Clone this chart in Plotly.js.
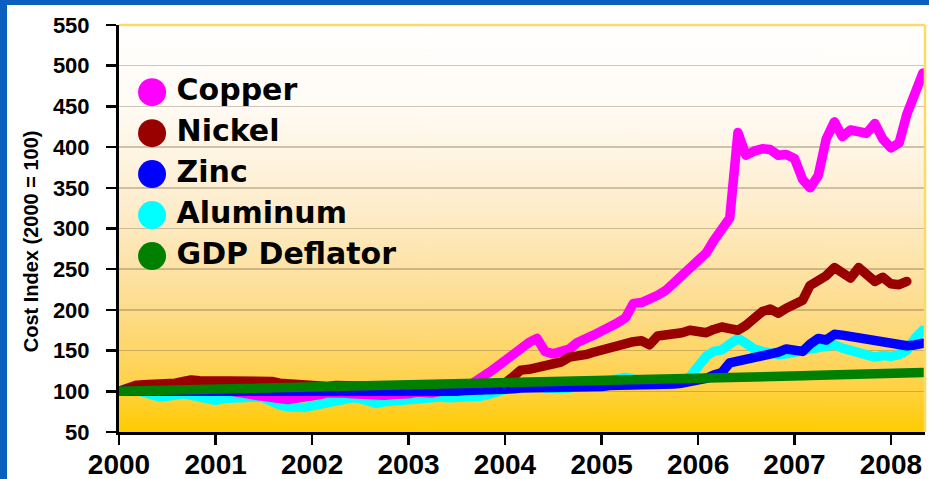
<!DOCTYPE html>
<html>
<head>
<meta charset="utf-8">
<script src="https://cdn.plot.ly/plotly-3.0.1.min.js"></script>
<style>
  html, body { margin: 0; padding: 0; width: 929px; height: 479px; overflow: hidden; background: #0a5fbf; }
  #chart { position: absolute; left: 7px; top: 5px; width: 922px; height: 474px; background: #ffffff; }
  .js-line { stroke-linecap: round !important; stroke-linejoin: round !important; }
</style>
</head>
<body>
<div id="chart"></div>
<script>
// ---- Data (monthly, Jan 2000 onward; index 2000 = 100) ----
const startYear = 2000;
const seriesNames = ["Copper", "Nickel", "Zinc", "Aluminum", "GDP Deflator"];
const yTickLabels = ["50","100","150","200","250","300","350","400","450","500","550"];
const yTitle = "Cost Index (2000 = 100)";

const copper = [
  100,101,103,103,102,103,104,105,106,104,104,106,
  103,102,100,98,97,95,93,92,91,90,91,92,
  94,96,98,99,98,97,96,95,95,95,96,96,
  97,99,98,98,100,101,103,105,110,115,123,130,
  138,147,155,160,165,149,146,150,152,160,166,169,
  174,178,184,190,208,209,212,218,224,233,242,250,
  258,270,285,297,313,418,390,395,398,397,390,391,
  386,360,350,365,410,431,413,421,419,417,429,410,
  399,405,440,470,491
];
const nickel = [
  100,104,107,108,108,109,109,110,112,114,113,113,
  113,113,113,113,113,114,114,112,110,109,108,108,
  108,107,106,107,107,106,107,108,106,106,105,105,
  105,106,106,106,107,107,107,108,108,108,109,109,
  110,118,126,127,129,134,135,136,142,143,145,148,
  151,153,156,159,161,162,157,168,169,171,172,175,
  173,172,176,179,177,175,181,190,198,201,196,202,
  206,212,230,236,242,252,244,239,252,243,235,240,
  232,231,235
];
const zinc = [
  100,100,99,99,98,98,98,98,98,98,98,98,
  98,98,98,98,98,98,98,98,98,98,98,98,
  98,98,98,98,98,98,98,98,98,99,99,99,
  99,99,99,100,100,100,100,101,101,102,102,103,
  103,103,104,104,104,104,104,104,105,105,105,106,
  106,107,107,107,107,108,108,108,108,109,110,112,
  113,116,120,123,135,137,138,141,144,146,148,152,
  151,149,158,165,163,170,169,167,166,163,162,161,
  157,155,156,157,159
];
const aluminum = [
  100,104,102,99,97,93,94,96,97,95,92,90,
  89,91,92,92,93,93,92,86,83,81,79,80,
  82,84,87,89,91,92,91,87,85,87,88,89,
  89,90,92,93,93,92,92,92,93,94,96,99,
  104,106,108,109,108,104,103,103,104,106,107,108,
  110,112,115,117,115,110,108,108,109,110,112,118,
  131,143,149,151,158,165,159,152,149,147,145,146,
  147,150,152,154,156,157,153,150,145,143,142,144,
  143,145,150,165,175
];
const gdpDeflator = [
  100.0,100.2,100.4,100.6,100.8,101.0,101.2,101.4,101.6,101.8,102.0,102.2,
  102.4,102.6,102.8,103.0,103.2,103.3,103.5,103.7,103.9,104.0,104.2,104.4,
  104.6,104.8,104.9,105.1,105.3,105.5,105.6,105.8,106.0,106.2,106.4,106.5,
  106.7,106.9,107.1,107.3,107.5,107.7,107.9,108.1,108.3,108.5,108.7,108.9,
  109.1,109.3,109.6,109.8,110.1,110.3,110.6,110.8,111.1,111.3,111.6,111.8,
  112.1,112.3,112.6,112.8,113.1,113.3,113.6,113.8,114.1,114.3,114.6,114.8,
  115.1,115.4,115.7,116.0,116.3,116.6,116.9,117.2,117.5,117.8,118.1,118.4,
  118.7,119.0,119.3,119.6,119.9,120.2,120.5,120.8,121.1,121.4,121.7,122.0,
  122.3,122.6,122.8,123.0,123.2
];
const colors = ["#ff00ff", "#990000", "#0000ff", "#00ffff", "#008000"];

// month labels for the x categories
function monthDates(n) {
  const out = [];
  for (let m = 0; m < n; m++) {
    const y = startYear + Math.floor(m / 12);
    const mo = (m % 12) + 1;
    out.push(y + "-" + (mo < 10 ? "0" + mo : mo) + "-01");
  }
  return out;
}

const values = [copper, nickel, zinc, aluminum, gdpDeflator];
// drawing order (back to front)
const drawOrder = [3, 0, 1, 2, 4];
const traces = drawOrder.map(i => ({
  type: "scatter", mode: "lines",
  name: seriesNames[i],
  x: monthDates(values[i].length), y: values[i],
  line: { color: colors[i], width: 9.5, shape: "linear" },
  showlegend: false, hoverinfo: "x+y+name"
}));

// custom big-dot legend on an overlay axis pair
const legTop = 0.835, legStep = 0.1007, legX = 0.041;
traces.push({
  type: "scatter", mode: "markers+text",
  xaxis: "x2", yaxis: "y2",
  x: seriesNames.map(() => legX),
  y: seriesNames.map((_, i) => legTop - i * legStep),
  text: seriesNames.map(s => "\u2009" + s),
  textposition: "middle right",
  textfont: { family: "DejaVu Sans, Verdana, sans-serif", size: 30, weight: "bold", color: "#000" },
  marker: { size: 28, color: colors, line: { width: 0 } },
  showlegend: false, hoverinfo: "skip", cliponaxis: false
});

// gradient background image
function gradientURL() {
  const c = document.createElement("canvas");
  c.width = 4; c.height = 400;
  const ctx = c.getContext("2d");
  const g = ctx.createLinearGradient(0, 0, 0, 400);
  g.addColorStop(0.0, "#ffffff");
  g.addColorStop(0.2, "#fffbf5");
  g.addColorStop(0.45, "#feedcc");
  g.addColorStop(0.7, "#fddc8c");
  g.addColorStop(0.88, "#ffd24a");
  g.addColorStop(1.0, "#ffcc00");
  ctx.fillStyle = g; ctx.fillRect(0, 0, 4, 400);
  return c.toDataURL("image/png");
}

const tickFont = { family: "Liberation Sans, Arial, sans-serif", weight: "bold", color: "#000" };

const layout = {
  width: 922, height: 474,
  margin: { l: 112, r: 4, t: 20, b: 47 },
  paper_bgcolor: "#ffffff",
  plot_bgcolor: "rgba(0,0,0,0)",
  showlegend: false,
  xaxis: {
    type: "date",
    range: ["2000-01-01", "2008-05-09"],
    dtick: "M12", tick0: "2000-01-01", tickformat: "%Y",
    showgrid: false, zeroline: false,
    showline: true, linecolor: "#000", linewidth: 3,
    ticks: "outside", ticklen: 10, tickwidth: 2.5, tickcolor: "#000",
    ticklabelstandoff: -5,
    tickfont: Object.assign({ size: 28 }, tickFont),
    fixedrange: true
  },
  yaxis: {
    range: [50, 550],
    tickvals: yTickLabels.map(Number), ticktext: yTickLabels,
    showgrid: true, gridcolor: "rgba(110,90,60,0.33)", gridwidth: 1.5,
    zeroline: false,
    showline: true, linecolor: "#000", linewidth: 3,
    ticks: "outside", ticklen: 10, tickwidth: 2.5, tickcolor: "#000",
    ticklabelstandoff: 12,
    tickfont: Object.assign({ size: 22 }, tickFont),
    fixedrange: true
  },
  xaxis2: { overlaying: "x", range: [0, 1], visible: false, fixedrange: true },
  yaxis2: { overlaying: "y", range: [0, 1], visible: false, fixedrange: true },
  annotations: [{
    text: yTitle, xref: "paper", yref: "paper",
    x: -0.109, y: 0.469, xanchor: "center", yanchor: "middle",
    textangle: -90, showarrow: false,
    font: { family: "Liberation Sans, Arial, sans-serif", size: 20, weight: "bold", color: "#000" }
  }],
  images: [{
    source: gradientURL(), xref: "paper", yref: "paper",
    x: 0, y: 1, sizex: 1, sizey: 1, sizing: "stretch", layer: "below",
    xanchor: "left", yanchor: "top"
  }],
  shapes: [
    { type: "line", xref: "paper", yref: "paper", x0: 0, x1: 1, y0: 1, y1: 1, line: { color: "#ffd966", width: 2.5 } },
    { type: "line", xref: "paper", yref: "paper", x0: 1, x1: 1, y0: 0, y1: 1, line: { color: "#ffd966", width: 2.5 } }
  ]
};

Plotly.newPlot("chart", traces, layout, { displayModeBar: false, staticPlot: true });
</script>
</body>
</html>
